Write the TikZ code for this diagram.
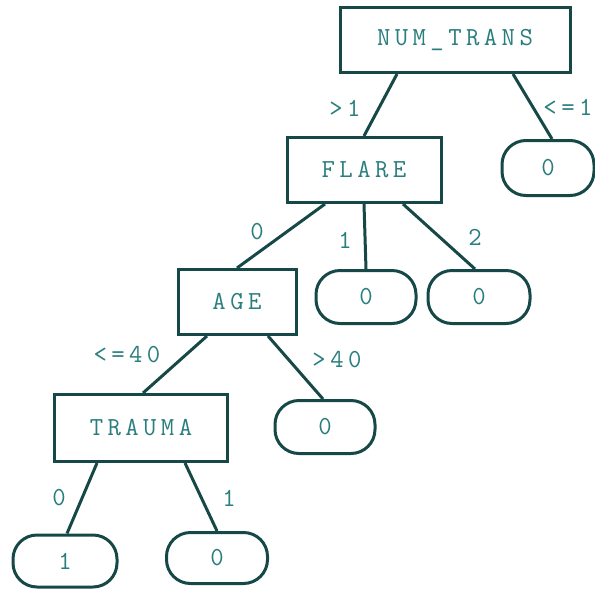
\documentclass[tikz,border=0pt]{standalone}
\usepackage{fontspec}
\newfontfamily\treefont{Latin Modern Mono}[LetterSpace=17]
\usepackage{tikz}
\definecolor{treeline}{RGB}{22,72,72}
\definecolor{treetext}{RGB}{40,125,125}

\begin{document}
\begin{tikzpicture}[x=1pt,y=-1pt,
        every node/.style={font=\treefont\fontsize{26}{28}\selectfont,text=treetext},
        test/.style={draw=treeline,line width=3pt,minimum height=65pt,inner sep=0pt},
        leaf/.style={draw=treeline,line width=3pt,rounded corners=24pt,minimum width=100pt,minimum height=53pt,inner sep=0pt},
        edge/.style={draw=treeline,line width=3pt}
      ]
      \useasboundingbox (0,0) rectangle (595,590);

      \node[test,minimum width=230pt] (nt) at (455,40) {NUM\_TRANS};
      \node[test,minimum width=154pt] (flare) at (364,170) {FLARE};
      \node[test,minimum width=118pt] (age) at (237,302) {AGE};
      \node[test,minimum width=173pt,minimum height=67pt] (trauma) at (141,428) {TRAUMA};

      \node[leaf,minimum width=92pt,minimum height=55pt] (ntb) at (548,168) {0};
      \node[leaf] (flb) at (366,297) {0};
      \node[leaf,minimum width=102pt] (flc) at (479,297) {0};
      \node[leaf] (ageb) at (325,427) {0};
      \node[leaf,minimum width=104pt,minimum height=52pt] (tra) at (65,561) {1};
      \node[leaf,minimum width=101pt,minimum height=51pt] (trb) at (217,558) {0};

      \draw[edge] ([xshift=-58pt]nt.south) -- (flare.north);
      \draw[edge] ([xshift=58pt]nt.south) -- ([xshift=4pt]ntb.north);
      \draw[edge] ([xshift=-39pt]flare.south) -- (age.north);
      \draw[edge] (flare.south) -- (flb.north);
      \draw[edge] ([xshift=39pt]flare.south) -- ([xshift=-4pt]flc.north);
      \draw[edge] ([xshift=-30pt]age.south) -- ([xshift=2pt]trauma.north);
      \draw[edge] ([xshift=31pt]age.south) -- ([xshift=-2pt]ageb.north);
      \draw[edge] ([xshift=-44pt]trauma.south) -- ([xshift=2pt]tra.north);
      \draw[edge] ([xshift=44pt]trauma.south) -- (trb.north);

      \node (lnta) at (345,108) {>1};
      \node (lntb) at (568,107) {<=1};
      \node (lfla) at (257,232) {0};
      \node (lflb) at (345,240) {1};
      \node (lflc) at (475,237) {2};
      \node (lagea) at (127,355) {<=40};
      \node (lageb) at (337,360) {>40};
      \node (ltra) at (59,498) {0};
      \node (ltrb) at (229,498) {1};
    \end{tikzpicture}
\end{document}
